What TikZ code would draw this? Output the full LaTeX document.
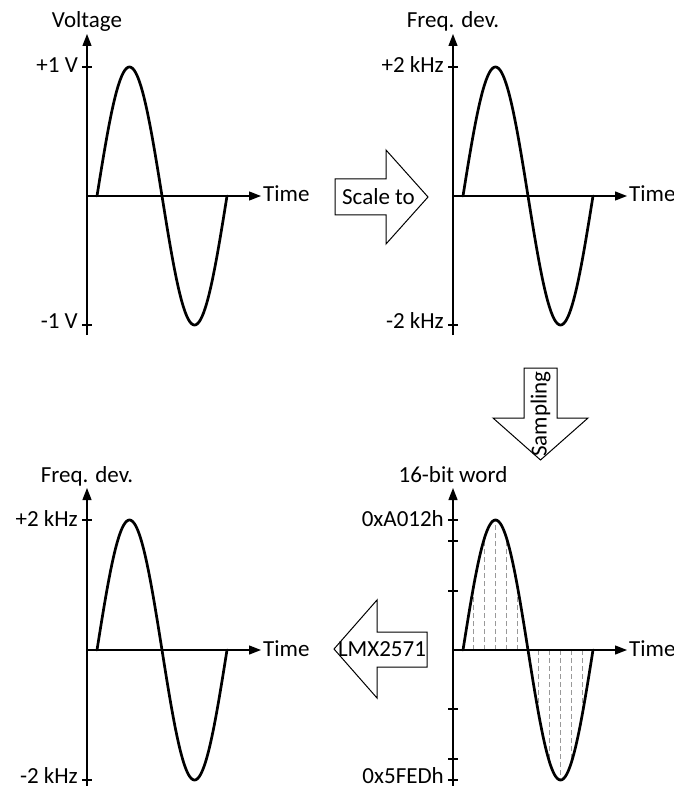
\documentclass[tikz,border=0pt]{standalone}
\usepackage{fontspec}
\setmainfont{Carlito}
\usetikzlibrary{arrows.meta}
\newcommand{\mywave}[7]{%
  \coordinate (#1o) at (#2,#3);
  \coordinate (#1yb) at (#2,#3+#4+10);
  \coordinate (#1yt) at (#2,#3-162);
  \coordinate (#1xe) at (#2+174,#3);
  \draw[axisline] (#1yb) -- (#1yt);
  \draw[axisline] (#1o) -- (#1xe);
  \draw[tickline] (#2-5,#3-#4) -- (#2+5,#3-#4);
  \draw[tickline] (#2-5,#3+#4) -- (#2+5,#3+#4);
  \node[lbl, anchor=base east] (#1hi) at (#2-9,#3-#4+6) {#5};
  \node[lbl, anchor=base east] (#1lo) at (#2-9,#3+#4+3.5) {#6};
  \node[lbl, anchor=base] (#1title) at (#2,#3-168) {#7};
  \node[lbl, anchor=base west] (#1time) at (#2+176,#3+6) {Time};
}
\newcommand{\mysine}[4]{%
  \draw[waveline] plot[domain=0:130, samples=150, smooth] ({#2+10+\x}, {#3-#4*sin(\x/130*360)});
}
\begin{document}
\begin{tikzpicture}[x=1pt,y=-1pt, font=\fontsize{23}{27}\selectfont,
  axisline/.style={line width=1.3pt, -{Triangle[length=12pt,width=9pt]}},
  tickline/.style={line width=1.3pt},
  waveline/.style={line width=2.7pt, line join=round, line cap=round},
  samp/.style={color=black!40, line width=1pt, dash pattern=on 5pt off 3pt},
  blockarrow/.style={draw, line width=1pt, fill=white, line join=miter},
  lbl/.style={inner sep=0pt}]
\useasboundingbox (0,0) rectangle (673,786);

% top-left
\mywave{a}{87}{196}{129}{+1 V}{-1 V}{Voltage}
\mysine{a}{87}{196}{129}
% top-right
\mywave{b}{453}{196}{129}{+2 kHz}{-2 kHz}{Freq. dev.}
\mysine{b}{453}{196}{129}
% bottom-left
\mywave{c}{87}{650}{130}{+2 kHz}{-2 kHz}{Freq. dev.}
\mysine{c}{87}{650}{130}
% bottom-right
\foreach \k in {1,2,3,4,5,7,8,9,10,11}
  \draw[samp] ({463+\k*130/12}, 650) -- ({463+\k*130/12}, {650-130*sin(\k*30)});
\mywave{d}{453}{650}{130}{0xA012h}{0x5FEDh}{16-bit word}
\foreach \t in {-109,-59,59,109}
  \draw[tickline] (448,650+\t) -- (458,650+\t);
\mysine{d}{453}{650}{130}

% block arrows
\draw[blockarrow] (335,179) -- (386,179) -- (386,150) -- (428,197) -- (386,244) -- (386,215) -- (335,215) -- cycle;
\node[lbl] (scaleto) at (378.5,197) {Scale to};

\draw[blockarrow] (524,368) -- (557,368) -- (557,418) -- (588,418) -- (540.5,460) -- (493,418) -- (524,418) -- cycle;
\node[lbl, rotate=90] (sampling) at (540.5,414) {Sampling};

\draw[blockarrow] (427,632) -- (377,632) -- (377,600) -- (334,649) -- (377,698) -- (377,667) -- (427,667) -- cycle;
\node[lbl] (lmx) at (382,649) {LMX2571};
\end{tikzpicture}
\end{document}
